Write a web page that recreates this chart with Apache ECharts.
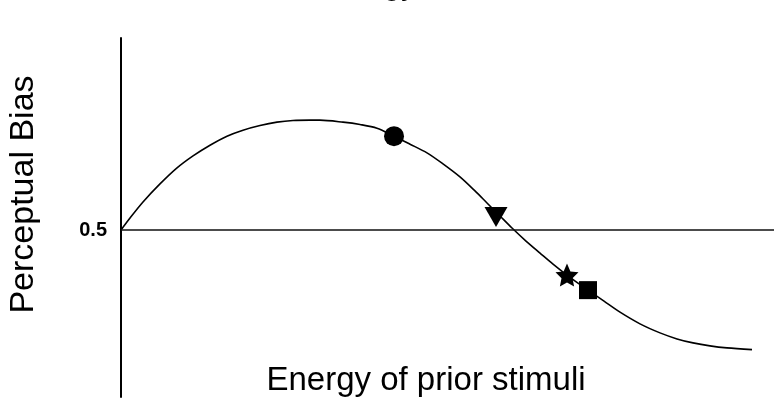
<!DOCTYPE html>
<html>
<head>
<meta charset="utf-8">
<script src="https://cdn.jsdelivr.net/npm/echarts@6/dist/echarts.min.js"></script>
<style>html,body{margin:0;padding:0;background:#fff;}#c{width:774px;height:401px;}</style>
</head>
<body>
<div id="c"></div>
<script>
// Curve samples: energy of prior stimuli (x) vs perceptual bias (y)
var curveX = [0, 1.38, 3.37, 5.97, 8.58, 11.03, 13.63, 16.23, 18.68, 21.29, 23.89, 26.34, 28.94, 30.47, 34.00, 36.60, 39.20, 41.81, 44.26, 46.86, 49.31, 51.91, 54.21, 56.05, 58.04, 59.88, 62.02, 64.17, 66.16, 68.30, 69.98, 71.52, 73.97, 76.42, 79.48, 82.54, 85.15, 87.60, 90.20, 92.80, 96.63];
var curveY = [0.500, 0.536, 0.584, 0.638, 0.686, 0.722, 0.754, 0.781, 0.799, 0.813, 0.823, 0.828, 0.829, 0.829, 0.823, 0.816, 0.805, 0.781, 0.757, 0.731, 0.698, 0.659, 0.617, 0.581, 0.542, 0.506, 0.467, 0.431, 0.398, 0.365, 0.341, 0.320, 0.287, 0.254, 0.219, 0.192, 0.174, 0.162, 0.153, 0.147, 0.142];
// Marked conditions
var circlePt = [41.81, 0.781];
var trianglePt = [57.43, 0.539];
var starPt = [68.30, 0.365];
var squarePt = [71.52, 0.320];
var neutralLevel = 0.5;
var yTickLabels = ['0.5'];

var font = 'Liberation Sans, Arial, Helvetica, sans-serif';
var curve = curveX.map(function (x, i) { return [x, curveY[i]]; });
var starPath = 'path://M50,0 L64.1,30.6 L97.6,34.5 L72.8,57.4 L79.4,90.5 L50,74 L20.6,90.5 L27.2,57.4 L2.4,34.5 L35.9,30.6 Z';
var markerStyle = { color: '#000', opacity: 1 };

var chart = echarts.init(document.getElementById('c'));
chart.setOption({
  animation: false,
  backgroundColor: '#fff',
  grid: { left: 121, right: 0, top: 38, bottom: 4 },
  xAxis: { type: 'value', min: 0, max: 100, show: false },
  yAxis: {
    type: 'value', min: 0, max: 1.075, interval: 0.5,
    axisLine: { show: true, lineStyle: { color: '#000', width: 2 } },
    axisTick: { show: false },
    splitLine: { show: false },
    axisLabel: {
      margin: 14, color: '#000', fontSize: 20, fontWeight: 'bold', fontFamily: font,
      formatter: function (v) { return Math.abs(v - 0.5) < 1e-9 ? yTickLabels[0] : ''; }
    }
  },
  graphic: [
    { type: 'text', x: 313, y: -15, style: { text: 'Energy', font: '33px ' + font, fill: '#000', textAlign: 'left', textVerticalAlign: 'middle' } },
    { type: 'text', x: 426, y: 380.5, style: { text: 'Energy of prior stimuli', font: '33px ' + font, fill: '#000', textAlign: 'center', textVerticalAlign: 'middle' } },
    { type: 'text', x: 23.5, y: 194.5, rotation: Math.PI / 2, style: { text: 'Perceptual Bias', font: '34px ' + font, fill: '#000', textAlign: 'center', textVerticalAlign: 'middle' } }
  ],
  series: [
    {
      type: 'line', data: curve, smooth: 0.3, showSymbol: false, symbol: 'none',
      lineStyle: { color: '#000', width: 1.6 },
      markLine: {
        silent: true, symbol: 'none', label: { show: false },
        lineStyle: { color: '#111', width: 1.6, type: 'solid' },
        data: [{ yAxis: neutralLevel }]
      },
      z: 2
    },
    { type: 'scatter', data: [circlePt], symbol: 'circle', symbolSize: 20, itemStyle: markerStyle, z: 3 },
    { type: 'scatter', data: [trianglePt], symbol: 'triangle', symbolSize: [23, 20], symbolRotate: 180, itemStyle: markerStyle, z: 3 },
    { type: 'scatter', data: [starPt], symbol: starPath, symbolSize: [23, 23], itemStyle: markerStyle, z: 3 },
    { type: 'scatter', data: [squarePt], symbol: 'rect', symbolSize: 18, itemStyle: markerStyle, z: 3 }
  ]
});
</script>
</body>
</html>
